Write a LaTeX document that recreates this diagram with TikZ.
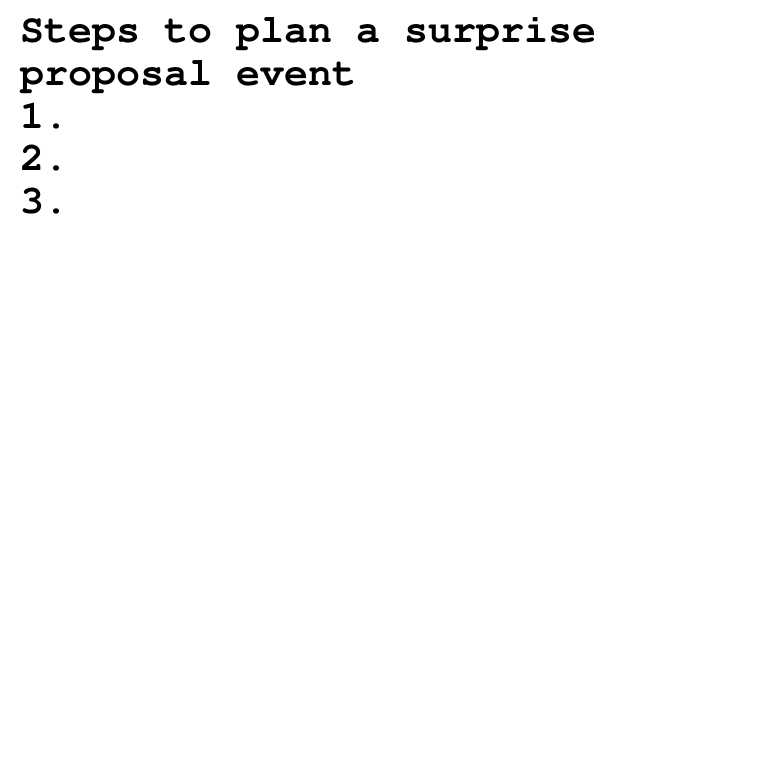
\documentclass[tikz,border=0pt]{standalone}
\usepackage[T1]{fontenc}
\begin{document}
\begin{tikzpicture}[x=1pt, y=1pt]
  \tikzset{listline/.style={anchor=base west, inner sep=0pt, font=\fontfamily{pcr}\bfseries\fontsize{40}{43}\selectfont}}
  \useasboundingbox[fill=white] (0, 0) rectangle (760, -760);

  \node[listline] (title1) at (20, -42.7) {Steps to plan a surprise};
  \node[listline] (title2) at (20, -85.3) {proposal event};
  \node[listline] (item1) at (20, -128) {1.};
  \node[listline] (item2) at (20, -170.7) {2.};
  \node[listline] (item3) at (20, -213.3) {3.};
\end{tikzpicture}
\end{document}
